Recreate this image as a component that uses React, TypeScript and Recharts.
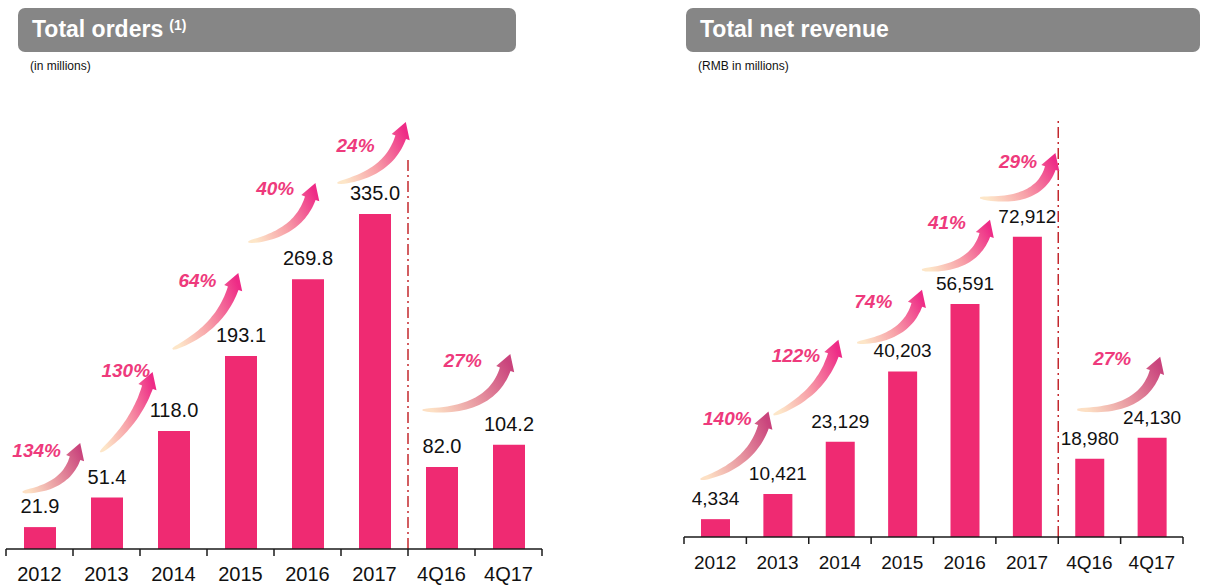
import React from 'react';
import { BarChart, Bar, XAxis, YAxis, LabelList, ReferenceLine } from 'recharts';

const categories = ['2012', '2013', '2014', '2015', '2016', '2017', '4Q16', '4Q17'];

// Total orders (in millions)
const orders = [21.9, 51.4, 118.0, 193.1, 269.8, 335.0, 82.0, 104.2];
// Total net revenue (RMB in millions)
const revenue = [4334, 10421, 23129, 40203, 56591, 72912, 18980, 24130];

// growth shown on the arrow that leaves bar i
const orderGrowth = ['134%', '130%', '64%', '40%', '24%', null, '27%', null];
const revenueGrowth = ['140%', '122%', '74%', '41%', '29%', null, '27%', null];

// arrow anchors in chart units: [category position (0.5 = centre of first bar), value]
const orderArrowTail = [[0.24, 57], [1.4, 97], [2.48, 200], [3.61, 307], [4.94, 366], null, [6.21, 139], null];
const orderArrowHead = [[1.1, 106], [2.18, 177], [3.46, 276], [4.61, 366], [5.96, 427], null, [7.52, 195], null];
const orderGrowthAt = [[0.45, 92], [1.78, 172], [2.85, 262], [4.01, 354], [5.21, 397], null, [6.81, 182], null];

const revenueArrowTail = [[0.26, 14000], [1.43, 29700], [2.77, 47200], [3.81, 64900], [4.74, 82400], null, [6.3, 30950], null];
const revenueArrowHead = [[1.35, 30460], [2.47, 47900], [3.81, 60070], [4.9, 77060], [5.95, 93300], null, [7.63, 43800], null];
const revenueGrowthAt = [[0.69, 27300], [1.79, 42400], [3.03, 55700], [4.21, 74900], [5.35, 89700], null, [6.86, 41900], null];

// where the full-year / quarter divider ends
const orderDividerTop = 389;
const revenueDividerTop = 101300;

const FONT = '"Liberation Sans", Arial, Helvetica, sans-serif';
const PINK = '#ef2a72';
const MUTED = new Set([0, 6]);

function arrowPath(T: number[], H: number[]) {
  const dl = Math.hypot(0.32, 0.95);
  const d = [0.32 / dl, -0.95 / dl];
  const headLen = 16;
  const headHalf = 9.5;
  const N = [H[0] - d[0] * headLen, H[1] - d[1] * headLen];
  const dist = Math.hypot(N[0] - T[0], N[1] - T[1]);
  const C = [N[0] - d[0] * dist * 0.5, N[1] - d[1] * dist * 0.5];
  const left: number[][] = [];
  const right: number[][] = [];
  const steps = 30;
  for (let i = 0; i <= steps; i++) {
    const t = i / steps;
    const a = (1 - t) * (1 - t), b = 2 * (1 - t) * t, c = t * t;
    const px = a * T[0] + b * C[0] + c * N[0];
    const py = a * T[1] + b * C[1] + c * N[1];
    let dx = 2 * (1 - t) * (C[0] - T[0]) + 2 * t * (N[0] - C[0]);
    let dy = 2 * (1 - t) * (C[1] - T[1]) + 2 * t * (N[1] - C[1]);
    const len = Math.hypot(dx, dy) || 1;
    dx /= len; dy /= len;
    const w = 0.8 + 4.8 * Math.sqrt(t);
    left.push([px - dy * w, py + dx * w]);
    right.push([px + dy * w, py - dx * w]);
  }
  const n = [-d[1], d[0]];
  const hl = [N[0] + n[0] * headHalf, N[1] + n[1] * headHalf];
  const hr = [N[0] - n[0] * headHalf, N[1] - n[1] * headHalf];
  const pts = [...left, hl, H, hr, ...right.reverse()];
  return 'M' + pts.map((p) => p[0].toFixed(1) + ',' + p[1].toFixed(1)).join('L') + 'Z';
}

type PanelProps = {
  id: string;
  values: number[];
  growth: (string | null)[];
  tails: (number[] | null)[];
  heads: (number[] | null)[];
  growthAt: (number[] | null)[];
  dividerTop: number;
  domainMax: number;
  width: number;
  marginLeft: number;
  marginRight: number;
  marginTop: number;
  axisHeight: number;
  barSize: number;
  fontSize: number;
  format: (v: number) => string;
};

function GrowthPanel(p: PanelProps) {
  const data = categories.map((name, i) => ({ name, value: p.values[i] }));
  const step = (p.width - p.marginLeft - p.marginRight) / categories.length;

  const renderArrow = (props: any) => {
    const vb = props.viewBox || props;
    const index = props.index;
    if (!p.growth[index]) return null;
    const { x, y, width, height } = vb;
    const k = height / p.values[index];
    const base = y + height;
    const cx = x + width / 2;
    const px = (c: number) => cx + (c - (index + 0.5)) * step;
    const py = (v: number) => base - v * k;
    const t = p.tails[index]!;
    const h = p.heads[index]!;
    const g = p.growthAt[index]!;
    const grad = MUTED.has(index) ? `${p.id}-muted` : `${p.id}-bright`;
    return (
      <g key={`arrow-${index}`}>
        <path d={arrowPath([px(t[0]), py(t[1])], [px(h[0]), py(h[1])])} fill={`url(#${grad})`} />
        <text
          x={px(g[0])}
          y={py(g[1])}
          textAnchor="middle"
          fontSize={19}
          fontWeight="bold"
          fontStyle="italic"
          fill="#ee3a7c"
        >
          {p.growth[index]}
        </text>
      </g>
    );
  };

  const renderTick = (props: any) => {
    const { x, y, payload, index } = props;
    const half = step / 2;
    return (
      <g key={`tick-${index}`}>
        <line x1={x - half} x2={x - half} y1={y} y2={y + 7} stroke="#1a1a1a" strokeWidth={1.5} />
        {index === categories.length - 1 && (
          <line x1={x + half} x2={x + half} y1={y} y2={y + 7} stroke="#1a1a1a" strokeWidth={1.5} />
        )}
        <text x={x} y={y + 31.5} textAnchor="middle" fontSize={p.fontSize} fill="#111">
          {payload.value}
        </text>
      </g>
    );
  };

  return (
    <BarChart
      width={p.width}
      height={587}
      data={data}
      margin={{ top: p.marginTop, right: p.marginRight, left: p.marginLeft, bottom: 0 }}
    >
      <defs>
        <linearGradient id={`${p.id}-bright`} x1="0" y1="0.7" x2="1" y2="0.3">
          <stop offset="0%" stopColor="#fde6c8" />
          <stop offset="45%" stopColor="#f7a0a8" />
          <stop offset="100%" stopColor="#ee2a86" />
        </linearGradient>
        <linearGradient id={`${p.id}-muted`} x1="0" y1="0.7" x2="1" y2="0.3">
          <stop offset="0%" stopColor="#fde0c4" />
          <stop offset="50%" stopColor="#e795a0" />
          <stop offset="100%" stopColor="#c9437c" />
        </linearGradient>
      </defs>
      <XAxis
        dataKey="name"
        interval={0}
        height={p.axisHeight}
        axisLine={{ stroke: '#1a1a1a', strokeWidth: 1.5 }}
        tickLine={false}
        tickSize={0}
        tickMargin={0}
        tick={renderTick}
      />
      <YAxis hide domain={[0, p.domainMax]} />
      <ReferenceLine
        segment={[{ x: '4Q16', y: 0 }, { x: '4Q16', y: p.dividerTop }]}
        position="start"
        stroke="#c3282e"
        strokeWidth={1.5}
        strokeDasharray="11 4 2 4"
        ifOverflow="visible"
      />
      <Bar dataKey="value" fill={PINK} barSize={p.barSize} isAnimationActive={false}>
        <LabelList
          dataKey="value"
          position="top"
          offset={14}
          fill="#111"
          fontSize={p.fontSize}
          formatter={(v: any) => p.format(Number(v))}
        />
        <LabelList dataKey="value" content={renderArrow} />
      </Bar>
    </BarChart>
  );
}

function Header({ left, width, title, sup, note }: { left: number; width: number; title: string; sup?: string; note: string }) {
  return (
    <>
      <div
        style={{
          position: 'absolute',
          left,
          top: 8,
          width,
          height: 44,
          background: '#868686',
          borderRadius: 7,
          color: '#fff',
          fontWeight: 'bold',
          fontSize: 23,
          lineHeight: '42px',
          paddingLeft: 14,
          boxSizing: 'border-box',
          whiteSpace: 'nowrap',
        }}
      >
        {title}
        {sup && (
          <span style={{ fontSize: 14, position: 'relative', top: -7, marginLeft: 6 }}>{sup}</span>
        )}
      </div>
      <div style={{ position: 'absolute', left: left + 12, top: 59, fontSize: 12, color: '#111' }}>{note}</div>
    </>
  );
}

export default function App() {
  return (
    <div
      style={{
        position: 'absolute',
        left: 0,
        top: 0,
        width: 1207,
        height: 587,
        background: '#fff',
        fontFamily: FONT,
        overflow: 'hidden',
      }}
    >
      <div style={{ position: 'absolute', left: 0, top: 0 }}>
        <GrowthPanel
          id="orders"
          values={orders}
          growth={orderGrowth}
          tails={orderArrowTail}
          heads={orderArrowHead}
          growthAt={orderGrowthAt}
          dividerTop={orderDividerTop}
          domainMax={500}
          width={560}
          marginLeft={6}
          marginRight={18}
          marginTop={49}
          axisHeight={38}
          barSize={32}
          fontSize={20}
          format={(v) => v.toFixed(1)}
        />
      </div>
      <div style={{ position: 'absolute', left: 680, top: 0 }}>
        <GrowthPanel
          id="revenue"
          values={revenue}
          growth={revenueGrowth}
          tails={revenueArrowTail}
          heads={revenueArrowHead}
          growthAt={revenueGrowthAt}
          dividerTop={revenueDividerTop}
          domainMax={120000}
          width={520}
          marginLeft={4}
          marginRight={17}
          marginTop={43}
          axisHeight={50}
          barSize={29}
          fontSize={19}
          format={(v) => v.toLocaleString('en-US')}
        />
      </div>
      <Header left={18} width={498} title="Total orders" sup="(1)" note="(in millions)" />
      <Header left={686} width={514} title="Total net revenue" note="(RMB in millions)" />
    </div>
  );
}
